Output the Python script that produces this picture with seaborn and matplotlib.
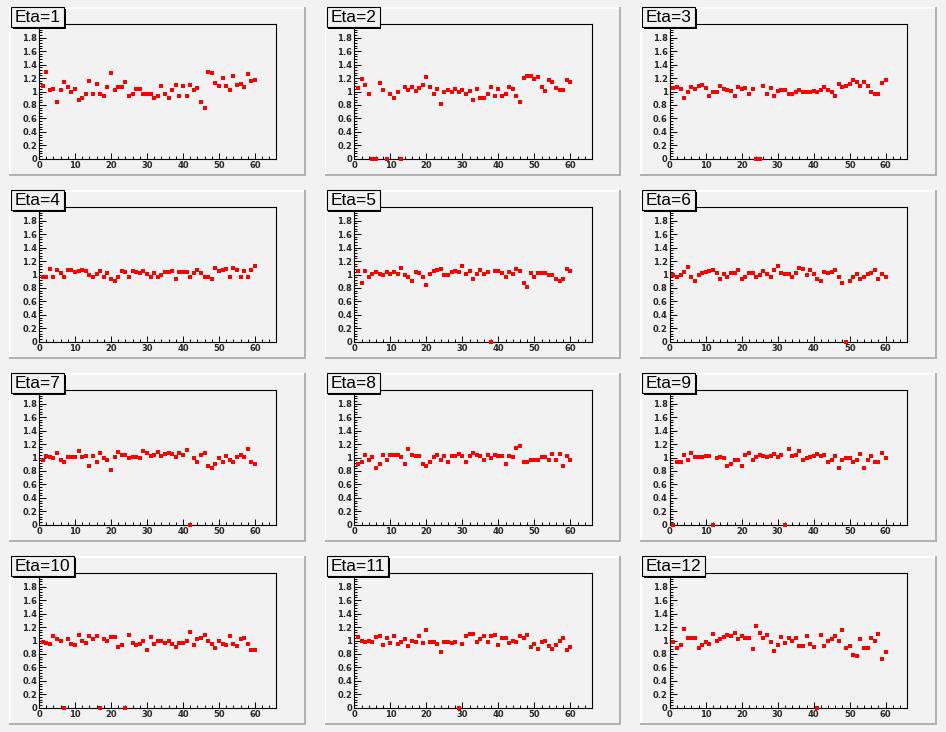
import matplotlib
matplotlib.use("Agg")
import matplotlib.pyplot as plt
from matplotlib.patches import Rectangle
from matplotlib.ticker import MultipleLocator
import seaborn as sns

# bin numbers (x) shared by all panels
bins = list(range(1, 61))

eta_1 = [1.08, 1.29, 1.02, 1.04, 0.84, 1.02, 1.14, 1.07, 0.99, 1.04,
         0.88, 0.91, 0.97, 1.16, 0.97, 1.11, 0.96, 0.93, 1.07, 1.28,
         1.02, 1.07, 1.07, 1.14, 0.93, 0.97, 1.04, 1.04, 0.97, 0.97,
         0.96, 0.91, 0.94, 1.08, 0.97, 0.90, 1.02, 1.10, 0.93, 1.08,
         0.93, 1.10, 1.02, 1.05, 0.85, 0.76, 1.29, 1.28, 1.13, 1.08,
         1.20, 1.08, 1.02, 1.23, 1.10, 1.11, 1.07, 1.26, 1.16, 1.17]
eta_2 = [1.05, 1.19, 1.10, 0.97, 0, 0, 1.13, 1.02, 0, 0.97,
         0.91, 0.99, 0, 1.07, 1.02, 1.07, 1.01, 1.05, 1.10, 1.22,
         1.07, 0.97, 1.04, 0.82, 0.99, 1.02, 0.99, 1.04, 0.99, 1.02,
         0.97, 1.01, 0.88, 1.04, 0.91, 0.91, 0.97, 1.07, 0.93, 1.04,
         0.93, 0.97, 1.07, 1.04, 0.94, 0.85, 1.20, 1.23, 1.23, 1.19,
         1.22, 1.07, 1.01, 1.17, 1.14, 1.05, 1.02, 1.02, 1.17, 1.14]
eta_3 = [1.05, 1.07, 1.04, 0.90, 0.99, 1.07, 1.04, 1.08, 1.10, 1.05,
         0.93, 0.99, 0.99, 1.08, 1.04, 1.02, 1.01, 0.94, 1.07, 1.04,
         1.05, 0.96, 1.04, 0, 0, 1.08, 0.97, 1.05, 0.94, 1.01,
         1.02, 1.02, 0.97, 0.97, 0.99, 1.02, 0.99, 0.99, 0.99, 1.01,
         0.99, 1.02, 1.07, 1.02, 0.99, 0.94, 1.11, 1.07, 1.08, 1.11,
         1.17, 1.14, 1.08, 1.14, 1.08, 0.99, 0.97, 0.97, 1.13, 1.17]
eta_4 = [0.97, 0.97, 1.08, 0.96, 1.07, 1.02, 0.96, 1.07, 1.07, 1.04,
         1.05, 1.07, 1.05, 0.99, 0.97, 1.01, 1.05, 0.97, 1.02, 0.93,
         0.91, 0.96, 1.05, 1.04, 0.97, 1.05, 1.04, 1.02, 1.05, 1.01,
         0.96, 1.02, 0.97, 0.99, 1.04, 1.04, 1.05, 0.93, 1.04, 1.04,
         1.04, 0.96, 1.02, 1.07, 1.02, 0.97, 0.96, 0.93, 1.10, 1.05,
         1.07, 1.08, 0.96, 1.10, 1.07, 0.97, 1.05, 0.96, 1.07, 1.13]
eta_5 = [1.05, 0.87, 1.05, 0.96, 1.01, 1.04, 1.01, 0.99, 1.04, 1.01,
         1.04, 1.01, 1.10, 0.99, 0.96, 0.91, 1.04, 1.02, 0.97, 0.85,
         1.01, 1.05, 1.07, 1.08, 0.99, 0.99, 1.04, 1.05, 1.04, 1.13,
         1.01, 1.05, 0.93, 1.01, 1.07, 1.01, 1.04, 0, 1.05, 1.05,
         1.02, 0.96, 1.04, 1.01, 1.08, 1.05, 0.88, 0.82, 1.02, 0.97,
         1.02, 1.02, 1.02, 0.99, 0.99, 0.94, 0.91, 0.93, 1.08, 1.05]
eta_6 = [0.99, 0.96, 0.99, 1.04, 1.11, 0.96, 0.90, 0.99, 1.02, 1.04,
         1.05, 1.07, 1.02, 0.94, 1.01, 0.96, 1.02, 1.02, 1.07, 0.94,
         0.97, 1.02, 1.02, 0.97, 0.99, 1.05, 1.01, 0.96, 1.07, 1.13,
         1.02, 1.01, 1.01, 0.97, 1.02, 1.10, 1.08, 0.99, 1.07, 1.01,
         0.94, 0.91, 1.04, 1.02, 1.04, 1.07, 0.96, 0.87, 0, 0.91,
         0.96, 1.01, 0.93, 0.96, 1.01, 1.02, 1.07, 0.94, 1.01, 0.97]
eta_7 = [0.97, 1.02, 1.01, 0.99, 1.07, 0.97, 0.93, 1.01, 1.01, 1.01,
         1.10, 1.01, 1.02, 0.87, 1.02, 0.94, 1.07, 0.99, 0.97, 0.82,
         1.01, 1.08, 1.04, 1.04, 0.99, 1.01, 1.01, 0.99, 1.10, 1.07,
         1.02, 1.04, 1.08, 1.02, 1.05, 1.07, 1.05, 1.01, 1.07, 1.04,
         1.11, 0, 0.99, 0.93, 1.04, 1.07, 0.87, 0.84, 0.90, 0.99,
         0.93, 1.02, 0.96, 0.93, 1.01, 1.04, 1.01, 1.13, 0.94, 0.91]
eta_8 = [0.91, 0.93, 1.04, 0.97, 1.01, 0.85, 0.91, 1.04, 0.96, 1.04,
         1.04, 1.04, 1.01, 0.91, 1.13, 1.04, 1.02, 1.02, 0.90, 0.88,
         0.94, 1.01, 1.04, 0.97, 1.02, 0.93, 1.02, 1.02, 1.05, 1.02,
         0.94, 1.02, 1.07, 1.04, 1.02, 0.97, 1.04, 0.99, 1.04, 1.02,
         1.02, 0.91, 1.02, 1.01, 1.14, 1.17, 0.93, 0.93, 0.96, 0.96,
         0.96, 1.01, 1.01, 0.96, 1.05, 0.96, 1.05, 0.88, 1.02, 0.96]
eta_9 = [0, 0.94, 0.94, 1.04, 0.96, 1.07, 1.01, 1.01, 1.01, 1.02,
         1.02, 0, 0.99, 1.01, 0.99, 0.88, 0.90, 0.96, 0.97, 0.88,
         1.04, 1.07, 0.97, 1.01, 1.04, 1.02, 1.01, 1.02, 1.05, 1.01,
         1.04, 0, 1.13, 1.02, 1.04, 1.10, 0.97, 0.99, 1.01, 1.02,
         1.05, 1.02, 1.04, 0.94, 0.97, 1.02, 0.85, 0.97, 0.99, 0.99,
         0.94, 0.97, 1.05, 0.85, 0.97, 1.02, 0.94, 0.94, 1.07, 0.99]
eta_10 = [0.98, 0.97, 0.95, 1.06, 1.02, 1.00, 0, 1.02, 0.95, 0.94,
          1.08, 1.00, 0.97, 1.06, 1.02, 1.06, 0, 1.02, 1.00, 1.05,
          1.05, 0.91, 0.94, 0, 1.08, 0.97, 0.94, 0.95, 1.00, 0.86,
          1.05, 0.95, 1.00, 1.00, 0.97, 1.00, 0.95, 0.91, 0.97, 0.97,
          1.00, 1.12, 0.94, 1.02, 1.03, 1.08, 1.00, 0.95, 0.89, 1.00,
          0.95, 0.94, 1.06, 0.95, 0.92, 1.02, 1.03, 0.95, 0.86, 0.86]
eta_11 = [1.05, 1.00, 0.98, 1.00, 0.98, 1.05, 1.06, 0.94, 1.03, 0.97,
          1.06, 0.95, 0.98, 1.02, 0.92, 1.00, 0.98, 1.06, 0.97, 1.15,
          0.98, 0.98, 0.95, 0.83, 0.98, 0.98, 0.97, 0.98, 0, 0.95,
          1.06, 1.09, 1.09, 0.98, 1.02, 1.06, 0.98, 1.06, 1.08, 0.94,
          1.03, 1.03, 0.97, 1.00, 0.98, 1.06, 1.03, 1.08, 0.91, 0.95,
          0.88, 0.98, 1.00, 0.92, 0.88, 0.94, 1.00, 1.03, 0.86, 0.91]
eta_12 = [0.98, 0.89, 0.94, 1.17, 1.03, 1.03, 1.03, 0.89, 0.94, 0.98,
          0.95, 1.09, 1.00, 1.02, 1.05, 1.08, 1.06, 1.11, 1.02, 1.06,
          1.03, 1.03, 0.88, 1.21, 1.11, 1.03, 1.08, 0.98, 0.85, 0.94,
          1.05, 0.97, 1.03, 1.00, 1.03, 0.92, 0.92, 1.06, 0.95, 0.91,
          0, 1.08, 0.92, 1.00, 1.02, 1.06, 1.00, 1.15, 0.89, 0.92,
          0.79, 0.77, 1.02, 0.89, 0.89, 1.03, 1.00, 1.09, 0.73, 0.83]

eta_values = [eta_1, eta_2, eta_3, eta_4, eta_5, eta_6,
              eta_7, eta_8, eta_9, eta_10, eta_11, eta_12]
titles = ["Eta=%d" % (i + 1) for i in range(12)]

y_ticks = [0, 0.2, 0.4, 0.6, 0.8, 1.0, 1.2, 1.4, 1.6, 1.8]
y_labels = ["0", "0.2", "0.4", "0.6", "0.8", "1", "1.2", "1.4", "1.6", "1.8"]
x_ticks = [0, 10, 20, 30, 40, 50, 60]

BG = "#f2f2f2"
W, H = 946, 732

sns.set_style("ticks")
plt.rcParams['font.family'] = ['DejaVu Sans']

fig = plt.figure(figsize=(W / 100, H / 100), dpi=100, facecolor=BG)


def rect_px(x, y, w, h, **kw):
    # rectangle given in pixel coords, y measured from the top
    r = Rectangle((x / W, 1 - (y + h) / H), w / W, h / H,
                  transform=fig.transFigure, **kw)
    fig.patches.append(r)
    return r


cell_w, cell_h = W / 3, H / 4
renderer = fig.canvas.get_renderer()

for i, vals in enumerate(eta_values):
    row, col = divmod(i, 3)
    px0 = col * cell_w + 0.01 * W
    py0 = row * cell_h + 0.01 * H
    pw = cell_w - 0.02 * W
    ph = cell_h - 0.02 * H

    # pad with bevel border
    rect_px(px0, py0, pw, ph, fc=BG, ec="none", zorder=-2)
    rect_px(px0, py0, pw, 1.5, fc="white", ec="none", zorder=-1)
    rect_px(px0, py0, 1.5, ph, fc="white", ec="none", zorder=-1)
    rect_px(px0, py0 + ph - 2, pw, 2, fc="#b2b2b2", ec="none", zorder=-1)
    rect_px(px0 + pw - 2, py0, 2, ph, fc="#b2b2b2", ec="none", zorder=-1)

    ax = fig.add_axes([(px0 + 0.1 * pw) / W, 1 - (py0 + 0.9 * ph) / H,
                       0.8 * pw / W, 0.8 * ph / H])
    ax.set_facecolor(BG)
    sns.scatterplot(x=bins, y=vals, ax=ax, marker="s", color="#ff0000",
                    s=6.5, linewidth=0, clip_on=False, zorder=3)
    ax.set_xlim(0, 65.9)
    ax.set_ylim(0, 2.0)
    ax.set_xticks(x_ticks)
    ax.set_xticklabels([str(t) for t in x_ticks])
    ax.set_yticks(y_ticks)
    ax.set_yticklabels(y_labels)
    ax.xaxis.set_minor_locator(MultipleLocator(2))
    ax.yaxis.set_minor_locator(MultipleLocator(0.04))
    ax.tick_params(which="both", direction="in", top=False, right=False,
                   color="black", width=0.7)
    ax.tick_params(axis="x", which="major", length=4, pad=1.5, labelsize=6)
    ax.tick_params(axis="x", which="minor", length=2)
    ax.tick_params(axis="y", which="major", length=5, pad=1.5, labelsize=6)
    ax.tick_params(axis="y", which="minor", length=2.5)
    for lab in ax.get_xticklabels() + ax.get_yticklabels():
        lab.set_fontweight("bold")
    ax.set_xlabel("")
    ax.set_ylabel("")
    for sp in ax.spines.values():
        sp.set_color("black")
        sp.set_linewidth(0.8)

    # title box in the pad corner
    t = fig.text((px0 + 5.5) / W, 1 - (py0 + 10.5) / H, titles[i],
                 fontsize=12.5, family="Liberation Sans", ha="left",
                 va="center", color="black", zorder=12)
    tw = t.get_window_extent(renderer=renderer).width
    bw = tw + 7
    rect_px(px0 + 3.5, py0 + 1.5, bw, 20, fc="black", ec="none", zorder=10)
    rect_px(px0 + 2, py0, bw, 20, fc=BG, ec="black", lw=0.8, zorder=11)

fig.savefig("out.png", dpi=100, facecolor=BG)
